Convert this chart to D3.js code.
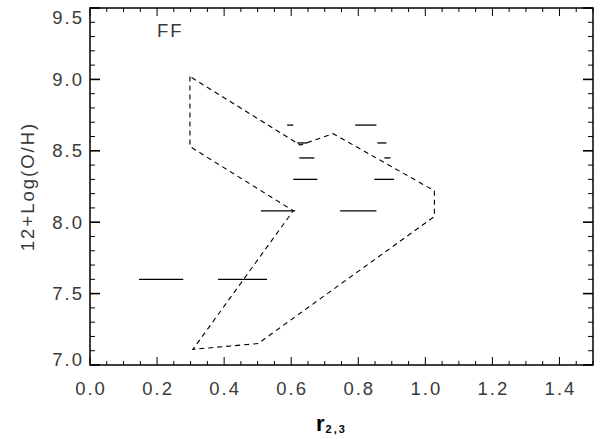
<!DOCTYPE html>
<html>
<head>
<meta charset="utf-8">
<script src="https://cdn.jsdelivr.net/npm/d3@7"></script>
<style>
  html, body { margin: 0; padding: 0; background: #fff; }
  svg { display: block; }
  .tick-label { font-family: "Liberation Sans", Arial, sans-serif; font-size: 18.5px; fill: #3a3a3a; letter-spacing: 2px; }
</style>
</head>
<body>
<script>
// Abundance ranges: each row is one horizontal bar at 12+Log(O/H), spanning r23 from lo to hi
const barOH   = [7.60, 7.60, 8.08, 8.08, 8.30, 8.30, 8.45, 8.45, 8.555, 8.555, 8.68, 8.68];
const barR23lo = [0.146, 0.382, 0.510, 0.746, 0.606, 0.848, 0.624, 0.878, 0.618, 0.857, 0.588, 0.791];
const barR23hi = [0.278, 0.528, 0.612, 0.854, 0.678, 0.907, 0.669, 0.896, 0.648, 0.884, 0.606, 0.854];

// Outline of the model region (closed, dashed)
const regionR23 = [0.298, 0.298, 0.606, 0.307, 0.501, 1.027, 1.027, 0.725, 0.627];
const regionOH  = [9.02, 8.53, 8.08, 7.11, 7.15, 8.04, 8.22, 8.62, 8.54];

// Axis ticks
const xMajor = [0.0, 0.2, 0.4, 0.6, 0.8, 1.0, 1.2, 1.4];
const xLabels = ["0.0", "0.2", "0.4", "0.6", "0.8", "1.0", "1.2", "1.4"];
const yMajor = [7.0, 7.5, 8.0, 8.5, 9.0, 9.5];
const yLabels = ["7.0", "7.5", "8.0", "8.5", "9.0", "9.5"];
const xDomain = [0.0, 1.5];
const yDomain = [7.0, 9.5];

const W = 605, H = 439;
const m = { left: 90, right: 12, top: 8, bottom: 74 };

const svg = d3.select("body").append("svg").attr("width", W).attr("height", H);

const x = d3.scaleLinear().domain(xDomain).range([m.left, W - m.right]);
const y = d3.scaleLinear().domain(yDomain).range([H - m.bottom, m.top]);

const x0 = x.range()[0], x1 = x.range()[1];
const y0 = y.range()[0], y1 = y.range()[1];

// Minor ticks every 0.05 in r23 and every 0.1 in abundance
const xMinor = d3.range(0, 31).map(i => i * 0.05);
const yMinor = d3.range(0, 26).map(i => 7.0 + i * 0.1);

const g = svg.append("g");

// Tick marks on all four sides
const tk = g.append("g").attr("stroke", "#000").attr("stroke-width", 1);
xMinor.forEach(v => {
  const isMajor = xMajor.some(t => Math.abs(t - v) < 1e-6);
  const len = isMajor ? 8 : 4;
  tk.append("line").attr("x1", x(v)).attr("x2", x(v)).attr("y1", y0).attr("y2", y0 - len);
  tk.append("line").attr("x1", x(v)).attr("x2", x(v)).attr("y1", y1).attr("y2", y1 + len);
});
yMinor.forEach(v => {
  const isMajor = yMajor.some(t => Math.abs(t - v) < 1e-6);
  const len = isMajor ? 10 : 5;
  tk.append("line").attr("y1", y(v)).attr("y2", y(v)).attr("x1", x0).attr("x2", x0 + len)
    .attr("stroke-width", isMajor ? 1.6 : 1);
  tk.append("line").attr("y1", y(v)).attr("y2", y(v)).attr("x1", x1).attr("x2", x1 - len)
    .attr("stroke-width", isMajor ? 1.6 : 1);
});

// Frame
g.append("rect").attr("x", x0).attr("y", y1).attr("width", x1 - x0).attr("height", y0 - y1)
  .attr("fill", "none").attr("stroke", "#000").attr("stroke-width", 1.5);

// Tick labels
g.selectAll(".xl").data(xMajor).enter().append("text")
  .attr("class", "tick-label")
  .attr("x", d => x(d) + 1).attr("y", y0 + 30)
  .attr("text-anchor", "middle")
  .text((d, i) => xLabels[i]);

g.selectAll(".yl").data(yMajor).enter().append("text")
  .attr("class", "tick-label")
  .attr("x", x0 - 6)
  .attr("y", d => Math.min(Math.max(y(d), y1 + 9), y0 - 6))
  .attr("dy", "0.36em")
  .attr("text-anchor", "end")
  .text((d, i) => yLabels[i]);

// Axis titles
g.append("text")
  .attr("transform", `translate(34,${(y0 + y1) / 2}) rotate(-90)`)
  .attr("text-anchor", "middle")
  .attr("class", "tick-label")
  .text("12+Log(O/H)");

const xt = g.append("text")
  .attr("x", 316).attr("y", 431)
  .attr("font-family", "Liberation Sans, Arial, sans-serif")
  .attr("font-weight", "bold")
  .attr("fill", "#000");
xt.append("tspan").attr("font-size", 22).text("r");
xt.append("tspan").attr("font-size", 11).attr("dy", 2).attr("dx", 1).attr("letter-spacing", 2).text("2,3");

// Panel tag
g.append("text").attr("class", "tick-label").attr("x", 157).attr("y", 37)
  .attr("font-size", 17).attr("letter-spacing", 1).text("FF");

// Dashed region outline
const pts = regionR23.map((r, i) => [x(r), y(regionOH[i])]);
g.append("path")
  .attr("d", d3.line()(pts) + "Z")
  .attr("fill", "none").attr("stroke", "#000").attr("stroke-width", 1.1)
  .attr("stroke-dasharray", "5,4");

// Horizontal range bars
g.selectAll(".bar").data(barOH).enter().append("line")
  .attr("x1", (d, i) => x(barR23lo[i]))
  .attr("x2", (d, i) => x(barR23hi[i]))
  .attr("y1", d => y(d)).attr("y2", d => y(d))
  .attr("stroke", "#000").attr("stroke-width", 1.3);
</script>
</body>
</html>
